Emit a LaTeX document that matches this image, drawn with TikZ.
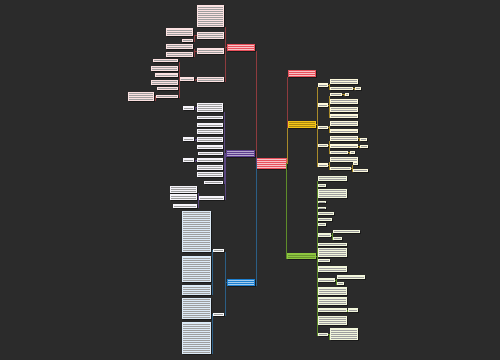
\documentclass[tikz,border=0pt]{standalone}
\definecolor{bg}{HTML}{2B2B2B}
\definecolor{redc}{HTML}{E8505B}
\definecolor{redl}{HTML}{8E3B3E}
\definecolor{pinkf}{HTML}{FBE1E1}
\definecolor{purc}{HTML}{5C3D8F}
\definecolor{purl}{HTML}{5A4680}
\definecolor{purf}{HTML}{F6F4FA}
\definecolor{bluc}{HTML}{1C7FD0}
\definecolor{blul}{HTML}{2B5E85}
\definecolor{bluf}{HTML}{DCEAF6}
\definecolor{yelc}{HTML}{F5C518}
\definecolor{yell}{HTML}{A88A2A}
\definecolor{yelf}{HTML}{FCF8DC}
\definecolor{grnc}{HTML}{8DC63F}
\definecolor{grnl}{HTML}{5E8C2A}
\definecolor{grnf}{HTML}{F2F6DC}
\definecolor{wht}{HTML}{FAFAFA}
\tikzset{
  box/.style={draw=none,inner sep=0pt,outer sep=0pt},
  shad/.style={fill=black!90},
  tl/.style={line width=0.3pt},
  conn/.style={line width=0.8pt},
  sub/.style={line width=0.6pt}
}
% name, x1, y1, x2, y2, fill, text-line colour
\newcommand\B[7]{%
  \pgfmathsetmacro\Bw{#4-#2}%
  \pgfmathsetmacro\Bh{#5-#3}%
  \fill[shad] (#2+0.7,#3+1) rectangle (#4+0.7,#5+1);
  \node[box,fill=#6,minimum width=\Bw pt,minimum height=\Bh pt,anchor=north west] (#1) at (#2,#3) {};
  \pgfmathtruncatemacro\Bn{max(1,floor((\Bh-0.6)/2))}%
  \pgfmathsetmacro\By{#3+(\Bh-(\Bn-1)*2)/2}%
  \foreach \i in {1,...,\Bn}{\draw[tl,#7] (#2+1.4,\By+\i*2-2) -- (#4-1.4,\By+\i*2-2);}
}
\newcommand\Lc[4][sub]{\draw[#1,#2] (#3.west) -| ([xshift=1pt]#4.south east);}
\newcommand\Rc[4][sub]{\draw[#1,#2] (#3.east) -| ([xshift=-1pt]#4.south west);}
\colorlet{tx}{black!38}
\colorlet{tw}{white!70}
\begin{document}
\begin{tikzpicture}[x=1pt,y=-1pt]
\fill[bg] (0,0) rectangle (500,360);
\useasboundingbox (0,0) rectangle (500,360);

% root
\B{root}{256}{158}{287}{169}{redc}{white!65!redc}

% ---------- left red branch
\B{r0}{227}{44}{255}{51}{redc}{white!65!redc}
\B{r1}{197}{5}{224}{27}{pinkf}{tx}
\B{r2}{197}{32}{224}{39}{pinkf}{tx}
\B{r3}{197}{48}{224}{54}{pinkf}{tx}
\B{r4}{197}{77}{224}{82}{pinkf}{tx}
\B{r2a}{166}{28}{193}{36}{pinkf}{tx}
\B{r2b}{182}{39}{193}{42}{pinkf}{tx}
\B{r3a}{166}{44}{193}{49}{pinkf}{tx}
\B{r3b}{166}{52}{193}{57}{pinkf}{tx}
\B{r4a}{180}{77}{194}{81}{pinkf}{tx}
\B{r5}{153}{59}{178}{62}{pinkf}{tx}
\B{r6}{151}{66}{178}{71}{pinkf}{tx}
\B{r7}{155}{73}{178}{77}{pinkf}{tx}
\B{r8}{151}{80}{178}{85}{pinkf}{tx}
\B{r9}{157}{87}{178}{90}{pinkf}{tx}
\B{r10}{156}{95}{178}{98}{pinkf}{tx}
\B{r10a}{128}{92}{154}{101}{pinkf}{tx}

% ---------- purple branch
\B{p0}{226}{150}{255}{157}{purc}{white!55!purc}
\B{p1}{197}{103}{223}{112}{purf}{tx}
\B{p2}{197}{116}{223}{119}{purf}{tx}
\B{p3}{197}{123}{223}{127}{purf}{tx}
\B{p4}{197}{129}{223}{134}{purf}{tx}
\B{p5}{197}{137}{223}{142}{purf}{tx}
\B{p6}{197}{145}{223}{149}{purf}{tx}
\B{p7}{198}{152}{223}{155}{purf}{tx}
\B{p8}{197}{158}{223}{162}{purf}{tx}
\B{p9}{197}{165}{223}{170}{purf}{tx}
\B{p10}{197}{172}{223}{177}{purf}{tx}
\B{p11}{204}{181}{223}{184}{purf}{tx}
\B{p12}{199}{196}{224}{200}{purf}{tx}
\B{p1a}{183}{106}{194}{110}{purf}{tx}
\B{p5a}{183}{137}{194}{141}{purf}{tx}
\B{p8a}{183}{158}{194}{162}{purf}{tx}
\B{p12a}{170}{186}{197}{193}{purf}{tx}
\B{p12b}{170}{194}{197}{200}{purf}{tx}
\B{p12c}{173}{204}{197}{208}{purf}{tx}

% ---------- blue branch
\B{b0}{227}{279}{255}{286}{bluc}{white!60!bluc}
\B{b1}{213}{249}{224}{252}{wht}{tx}
\B{b2}{213}{313}{224}{316}{wht}{tx}
\B{bb1}{182}{211}{211}{252}{bluf}{tx}
\B{bb2}{182}{256}{211}{282}{bluf}{tx}
\B{bb3}{182}{285}{211}{295}{bluf}{tx}
\B{bb4}{182}{298}{211}{319}{bluf}{tx}
\B{bb5}{182}{322}{211}{354}{bluf}{tx}

% ---------- right red
\B{rr0}{288}{70}{316}{77}{redc}{white!65!redc}

% ---------- yellow branch
\B{y0}{288}{121}{316}{128}{yelc}{black!30!yelc}
\B{yl1}{318}{83}{328}{87}{yelf}{tx}
\B{yl2}{318}{103}{328}{107}{yelf}{tx}
\B{yl3}{318}{126}{328}{129}{yelf}{tx}
\B{yl4}{318}{144}{328}{147}{yelf}{tx}
\B{yl5}{318}{163}{328}{167}{yelf}{tx}
\B{y1a}{330}{79}{358}{84}{yelf}{tx}
\B{y1b}{330}{87}{353}{90}{yelf}{tx}
\B{y1b1}{355}{87}{361}{90}{yelf}{tx}
\B{y2a}{330}{93}{342}{96}{yelf}{tx}
\B{y2a1}{345}{93}{349}{96}{yelf}{tx}
\B{y2b}{330}{99}{358}{104}{yelf}{tx}
\B{y2c}{330}{107}{358}{112}{yelf}{tx}
\B{y2d}{330}{114}{358}{118}{yelf}{tx}
\B{y3a}{330}{121}{358}{126}{yelf}{tx}
\B{y3b}{330}{129}{358}{133}{yelf}{tx}
\B{y4a}{330}{136}{358}{141}{yelf}{tx}
\B{y4a1}{360}{138}{367}{141}{yelf}{tx}
\B{y4b}{330}{144}{358}{148}{yelf}{tx}
\B{y4b1}{360}{145}{368}{148}{yelf}{tx}
\B{y4c}{330}{151}{348}{154}{yelf}{tx}
\B{y4c1}{350}{151}{355}{154}{yelf}{tx}
\B{y5a}{330}{157}{358}{162}{yelf}{tx}
\B{y5b}{330}{167}{351}{170}{yelf}{tx}
\B{y5b1}{353}{162}{358}{165}{yelf}{tx}
\B{y5b2}{353}{169}{368}{172}{yelf}{tx}

% ---------- green branch
\B{g0}{287}{253}{316}{259}{grnc}{black!25!grnc}
\B{g1}{318}{176}{347}{181}{grnf}{tx}
\B{g2}{318}{184}{326}{187}{grnf}{tx}
\B{g3}{318}{189}{347}{198}{grnf}{tx}
\B{g4}{318}{201}{326}{203}{grnf}{tx}
\B{g5}{318}{207}{326}{209}{grnf}{tx}
\B{g6}{318}{212}{334}{215}{grnf}{tx}
\B{g7}{318}{218}{332}{221}{grnf}{tx}
\B{g8}{318}{223}{326}{226}{grnf}{tx}
\B{g9}{318}{233}{331}{237}{grnf}{tx}
\B{g9a}{333}{230}{360}{233}{grnf}{tx}
\B{g9b}{333}{237}{342}{240}{grnf}{tx}
\B{g10}{318}{243}{347}{246}{grnf}{tx}
\B{g11}{318}{248}{347}{257}{grnf}{tx}
\B{g12}{318}{259}{330}{262}{grnf}{tx}
\B{g13}{318}{266}{347}{272}{grnf}{tx}
\B{g14}{318}{278}{335}{282}{grnf}{tx}
\B{g14a}{337}{275}{365}{279}{grnf}{tx}
\B{g14b}{337}{282}{344}{285}{grnf}{tx}
\B{g15}{318}{287}{347}{295}{grnf}{tx}
\B{g16}{318}{297}{347}{305}{grnf}{tx}
\B{g17}{318}{308}{347}{312}{grnf}{tx}
\B{g17a}{348}{308}{358}{312}{grnf}{tx}
\B{g18}{318}{316}{347}{325}{grnf}{tx}
\B{g19}{318}{333}{328}{336}{grnf}{tx}
\B{g19a}{330}{328}{358}{340}{grnf}{tx}

% ---------- connectors: trunk
\Lc[conn]{redl}{root}{r0}
\Lc[conn]{purl}{root}{p0}
\Lc[conn]{blul}{root}{b0}
\Rc[conn]{redl}{root}{rr0}
\Rc[conn]{yell}{root}{y0}
\Rc[conn]{grnl}{root}{g0}

% red left
\foreach \c in {r1,r2,r3,r4}{\Lc{redl}{r0}{\c}}
\Lc{redl}{r2}{r2a}\Lc{redl}{r2}{r2b}
\Lc{redl}{r3}{r3a}\Lc{redl}{r3}{r3b}
\Lc{redl}{r4}{r4a}
\foreach \c in {r5,r6,r7,r8,r9,r10}{\Lc{redl}{r4a}{\c}}
\Lc{redl}{r10}{r10a}

% purple
\foreach \c in {p1,p2,p3,p4,p5,p6,p7,p8,p9,p10,p11,p12}{\Lc{purl}{p0}{\c}}
\Lc{purl}{p1}{p1a}\Lc{purl}{p5}{p5a}\Lc{purl}{p8}{p8a}
\foreach \c in {p12a,p12b,p12c}{\Lc{purl}{p12}{\c}}

% blue
\Lc{blul}{b0}{b1}\Lc{blul}{b0}{b2}
\foreach \c in {bb1,bb2,bb3}{\Lc{blul}{b1}{\c}}
\foreach \c in {bb4,bb5}{\Lc{blul}{b2}{\c}}

% yellow
\foreach \c in {yl1,yl2,yl3,yl4,yl5}{\Rc{yell}{y0}{\c}}
\Rc{yell}{yl1}{y1a}\Rc{yell}{yl1}{y1b}\Rc{yell}{y1b}{y1b1}
\foreach \c in {y2a,y2b,y2c,y2d}{\Rc{yell}{yl2}{\c}}
\Rc{yell}{y2a}{y2a1}
\Rc{yell}{yl3}{y3a}\Rc{yell}{yl3}{y3b}
\foreach \c in {y4a,y4b,y4c}{\Rc{yell}{yl4}{\c}}
\Rc{yell}{y4a}{y4a1}\Rc{yell}{y4b}{y4b1}\Rc{yell}{y4c}{y4c1}
\Rc{yell}{yl5}{y5a}\Rc{yell}{yl5}{y5b}
\Rc{yell}{y5b}{y5b1}\Rc{yell}{y5b}{y5b2}

% green
\foreach \c in {g1,g2,g3,g4,g5,g6,g7,g8,g9,g10,g11,g12,g13,g14,g15,g16,g17,g18,g19}{\Rc{grnl}{g0}{\c}}
\Rc{grnl}{g9}{g9a}\Rc{grnl}{g9}{g9b}
\Rc{grnl}{g14}{g14a}\Rc{grnl}{g14}{g14b}
\Rc{grnl}{g17}{g17a}
\Rc{grnl}{g19}{g19a}
\end{tikzpicture}
\end{document}
